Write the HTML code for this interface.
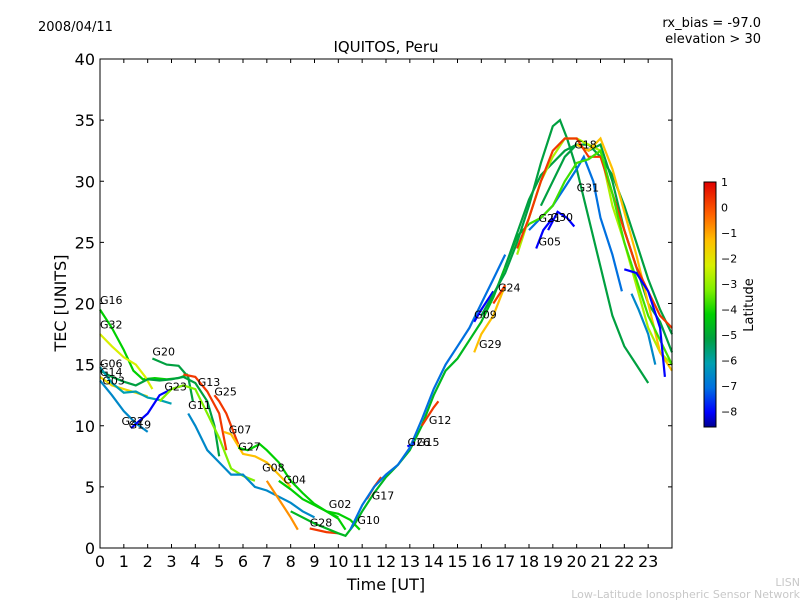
<!DOCTYPE html>
<html><head><meta charset="utf-8"><style>
body{margin:0;background:#fff;}
svg text{font-family:"DejaVu Sans","Liberation Sans",sans-serif;}
</style></head><body>
<svg id="chart" width="800" height="600" xmlns="http://www.w3.org/2000/svg">
<defs>
<linearGradient id="jet" x1="0" y1="1" x2="0" y2="0">
<stop offset="0" stop-color="#000090"/><stop offset="0.06" stop-color="#0000ff"/><stop offset="0.16" stop-color="#0070e0"/><stop offset="0.26" stop-color="#00a0b0"/><stop offset="0.36" stop-color="#00a040"/><stop offset="0.46" stop-color="#00d000"/><stop offset="0.56" stop-color="#80f000"/><stop offset="0.66" stop-color="#d8f000"/><stop offset="0.76" stop-color="#ffc000"/><stop offset="0.87" stop-color="#ff6000"/><stop offset="1" stop-color="#e00000"/>
</linearGradient>
</defs>
<rect width="800" height="600" fill="#fff"/>
<text x="38" y="31" font-size="13">2008/04/11</text>
<text x="761" y="27" font-size="13" text-anchor="end">rx_bias = -97.0</text>
<text x="761" y="43" font-size="13" text-anchor="end">elevation &gt; 30</text>
<text x="386" y="52" font-size="15" text-anchor="middle">IQUITOS, Peru</text>
<g id="plot"></g>
<rect x="100" y="59" width="572" height="489" fill="none" stroke="#000" stroke-width="1"/>
<g id="axes"></g>
<text x="386" y="590" font-size="16" text-anchor="middle">Time [UT]</text>
<text x="66" y="303" font-size="16" text-anchor="middle" transform="rotate(-90 66 303)">TEC [UNITS]</text>
<rect x="704" y="182" width="12" height="245" fill="url(#jet)" stroke="#000" stroke-width="1"/>
<g id="cbar"></g>
<text x="753" y="305" font-size="13" text-anchor="middle" transform="rotate(-90 753 305)">Latitude</text>
<text x="800" y="586" font-size="11" fill="#c8c8c8" text-anchor="end">LISN</text>
<text x="800" y="598" font-size="11" fill="#c8c8c8" text-anchor="end">Low-Latitude Ionospheric Sensor Network</text>
</svg>
<script>
const xTicks=[0,1,2,3,4,5,6,7,8,9,10,11,12,13,14,15,16,17,18,19,20,21,22,23];
const yTicks=[0,5,10,15,20,25,30,35,40];
const cbarTicks=[1,0,-1,-2,-3,-4,-5,-6,-7,-8];
const trackNames=["G16","G32","G06","G03","G14","G22","G19","G20","G13","G23","G11","G25","G07","G27","G08","G04","G28","G02","G10","G17","G12","G26","G15","G09","G29","G24","G05","G21","G30","G31","G18","GA","GB","GC","GD","GE","GF","GG","GH"];
const trackLats=[-4,-2,-5,-1.5,-6,-6.5,-8,-5,0.5,-3,-6.5,0.5,-1,-4,-0.5,-4,0.5,-4,-4.5,0.5,0.5,-8,-7,-8,-1,0.5,-8,-5,-8,-7,-5,-5,-2.5,-1,0.5,-3.5,-6.5,-8,-6.5];
const trackPts=[
[[0,19.5],[0.5,18],[1,16.2],[1.4,14.5],[1.8,13.8],[2.3,13.9],[2.8,13.8],[3.3,13.9],[3.7,14.2]],
[[0,17.5],[0.5,16.5],[1,15.6],[1.5,15],[1.9,14],[2.2,13]],
[[0,14.5],[0.5,14],[1,13.6],[1.5,13.3],[2,13.8],[2.5,13.7],[3,13.8],[3.5,14],[4,13.5],[4.5,12],[4.8,10],[5,7.5]],
[[0,14],[0.5,13.3],[1,13],[1.5,12.7],[2,12.4]],
[[0,14.8],[0.5,13.5],[1,12.7],[1.5,12.8],[2,12.3],[2.5,12.1],[3,11.8]],
[[0,13.7],[0.5,12.5],[1,11.2],[1.5,10.2],[2,9.5]],
[[1.3,9.8],[2,11],[2.5,12.5],[3,13],[3.5,13.3]],
[[2.2,15.5],[2.8,15],[3.3,14.9],[3.7,14],[3.9,12]],
[[3.5,14.2],[4,14],[4.5,12.8],[5,11],[5.3,8]],
[[2.5,12],[3,13],[3.5,13.3],[4,13],[4.5,11],[5,9],[5.5,6.5],[6,5.9],[6.5,5.5]],
[[3.7,11],[4,10],[4.5,8],[5,7],[5.5,6],[6,6],[6.5,5],[7,4.7],[7.5,4.2],[8,3.7],[8.5,3],[9,2.5]],
[[4.8,12.5],[5,12],[5.3,11],[5.5,10],[5.8,8.5]],
[[5.2,9.5],[5.5,9.3],[6,7.7],[6.5,7.5],[7,7],[7.5,6],[8,5]],
[[5.8,8.2],[6.2,8],[6.7,8.5],[7,8],[7.5,7],[8,5.5],[8.5,4.5],[9,3.6],[9.5,3],[10,2.4],[10.3,1.5]],
[[7,5.5],[7.5,4],[8,2.5],[8.3,1.5]],
[[7.5,5.5],[8,4.8],[8.5,4],[9,3.5],[9.5,3],[10,2.5]],
[[8.8,1.6],[9.5,1.3],[10,1.2]],
[[9.5,3],[10,2.8],[10.5,2.3],[10.9,1.5]],
[[8,3],[9,2],[10,1.2],[10.3,1],[10.7,2],[11,3],[11.5,4.5],[12,5.8],[12.5,6.8],[13,8],[13.5,10],[14,12.5],[14.5,14.5],[15,15.5],[15.5,17],[16,18.5],[16.5,20.5],[17,23],[17.5,25.5],[18,26.5]],
[[11.2,4],[11.5,5],[11.8,5.8]],
[[13.5,10],[14,11.5],[14.2,12]],
[[12.9,8.3],[13.2,8.6]],
[[10.5,1.5],[11,3.5],[11.5,5],[12,6],[12.5,6.8],[13,8.2],[13.5,10.5],[14,13],[14.5,15],[15,16.5],[15.5,18],[16,20],[16.5,22],[17,24]],
[[15.7,18.5],[16,19.5],[16.5,21]],
[[15.7,16],[16,17.5],[16.5,19],[17,21.5]],
[[16.5,20],[17,21.5]],
[[18.3,24.5],[18.6,26],[19,27]],
[[16,19],[17,22.5],[17.5,25],[18,28],[18.5,31.5],[19,34.5],[19.3,35],[19.6,33.5],[20,31],[20.5,27],[21,23],[21.5,19],[22,16.5],[22.5,15],[23,13.5]],
[[18.8,26],[19.2,27.5],[19.6,27],[19.9,26.3]],
[[18,26],[18.5,27],[19,28],[19.5,29.5],[20,31],[20.3,32],[20.7,30],[21,27],[21.5,24],[21.9,21]],
[[18.5,28],[19,30],[19.5,32],[20,33],[20.5,32.5],[21,33],[21.5,30],[22,26],[22.5,23],[23,20],[23.5,18.5],[24,16]],
[[17,23],[18,28.5],[18.5,30.5],[19,31.5],[19.5,32.5],[20,33],[20.5,33],[21,32],[21.5,30.5],[22,28],[22.5,25],[23,22],[23.5,19.5],[24,17.5]],
[[17.5,24],[18,27],[18.5,30],[19,32],[19.5,33.5],[20,33.5],[20.5,33],[21,32.5],[21.5,28],[22,25],[22.5,21.5],[23,18],[23.5,16],[24,15]],
[[20,33],[20.5,32.5],[21,33.5],[21.5,31],[22,27.5],[22.5,24],[23,20],[23.5,16],[24,14.5]],
[[17.5,24.5],[18,27],[18.5,30],[19,32.5],[19.5,33.5],[20,33.5],[20.5,32],[21,32],[21.5,29],[22,26],[22.5,23],[23,21],[23.5,19],[24,18]],
[[18,26.5],[18.5,27],[19,28],[19.5,30],[20,31.5],[20.5,31.8],[21,32.5],[21.5,29],[22,25],[22.5,22],[23,19],[23.5,17],[24,15]],
[[22.3,20.8],[22.6,19.5],[23,17.5],[23.3,15]],
[[22,22.8],[22.5,22.5],[23,21],[23.5,18],[23.7,14]]
];
const labels=[["G16",0,19.8],["G32",0,17.8],["G06",0,14.6],["G14",0,13.9],["G03",0.1,13.2],["G22",0.9,9.9],["G19",1.2,9.6],["G20",2.2,15.6],["G13",4.1,13.1],["G23",2.7,12.7],["G11",3.7,11.2],["G25",4.8,12.3],["G07",5.4,9.2],["G27",5.8,7.8],["G08",6.8,6.1],["G04",7.7,5.1],["G02",9.6,3.1],["G28",8.8,1.6],["G10",10.8,1.8],["G17",11.4,3.8],["G12",13.8,10],["G26",12.9,8.2],["G15",13.3,8.2],["G09",15.7,18.6],["G29",15.9,16.2],["G24",16.7,20.8],["G05",18.4,24.6],["G21",18.4,26.5],["G30",18.9,26.6],["G31",20,29],["G18",19.9,32.5]];
const cmapStops=[[-8.6,[0,0,144]],[-8,[0,0,255]],[-7,[0,112,224]],[-6,[0,160,176]],[-5,[0,160,64]],[-4,[0,208,0]],[-3,[128,240,0]],[-2,[216,240,0]],[-1,[255,192,0]],[0,[255,96,0]],[1.2,[224,0,0]]];
function latC(l){
 if(l<=cmapStops[0][0])return `rgb(${cmapStops[0][1]})`;
 for(let i=1;i<cmapStops.length;i++){const a=cmapStops[i-1],b=cmapStops[i];if(l<=b[0]){const t=(l-a[0])/(b[0]-a[0]);return 'rgb('+a[1].map((c,k)=>Math.round(c+(b[1][k]-c)*t)).join(',')+')';}}
 return `rgb(${cmapStops[cmapStops.length-1][1]})`;
}
function X(h){return 100+h*572/24;}
function Y(v){return 548-v*489/40;}
const NS="http://www.w3.org/2000/svg";
const plot=document.getElementById('plot');
trackPts.forEach((pts,i)=>{
 const p=document.createElementNS(NS,'polyline');
 p.setAttribute('points',pts.map(q=>X(q[0]).toFixed(1)+','+Y(q[1]).toFixed(1)).join(' '));
 p.setAttribute('fill','none');p.setAttribute('stroke',latC(trackLats[i]));p.setAttribute('stroke-width','2.2');
 
 
 plot.appendChild(p);
});
labels.forEach(l=>{
 const t=document.createElementNS(NS,'text');
 t.setAttribute('x',X(l[1]));t.setAttribute('y',Y(l[2])-2);t.setAttribute('font-size','11');t.textContent=l[0];
 
 
 plot.appendChild(t);
});
const axes=document.getElementById('axes');
xTicks.forEach(h=>{
 const x=X(h);
 const l=document.createElementNS(NS,'path');l.setAttribute('d',`M${x},548v-4M${x},59v4`);l.setAttribute('stroke','#000');
 
 
 axes.appendChild(l);
 const t=document.createElementNS(NS,'text');t.setAttribute('x',x);t.setAttribute('y',567);t.setAttribute('font-size','16');t.setAttribute('text-anchor','middle');t.textContent=h;
 
 
 axes.appendChild(t);
});
yTicks.forEach(v=>{
 const y=Y(v);
 const l=document.createElementNS(NS,'path');l.setAttribute('d',`M100,${y}h4M672,${y}h-4`);l.setAttribute('stroke','#000');
 
 
 axes.appendChild(l);
 const t=document.createElementNS(NS,'text');t.setAttribute('x',95);t.setAttribute('y',y+6);t.setAttribute('font-size','16');t.setAttribute('text-anchor','end');t.textContent=v;
 
 
 axes.appendChild(t);
});
const cb=document.getElementById('cbar');
cbarTicks.forEach(v=>{
 const y=182+(1-v)*25.5;
 const t=document.createElementNS(NS,'text');t.setAttribute('x',721);t.setAttribute('y',y+4);t.setAttribute('font-size','11');t.textContent=v<0?'\u2212'+(-v):v;
 
 
 cb.appendChild(t);
});
</script>
</body></html>
